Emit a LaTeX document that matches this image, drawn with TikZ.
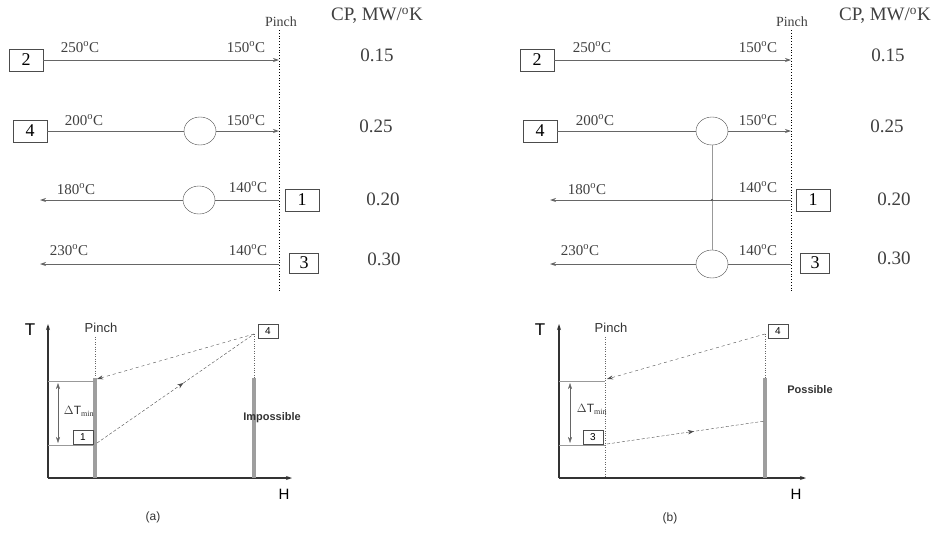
\documentclass[tikz,border=0pt]{standalone}
\usepackage{fontspec}
\setmainfont{Liberation Serif}
\setsansfont{Liberation Sans}
\usetikzlibrary{shapes.geometric,arrows.meta,decorations.markings}

\tikzset{
	streambox/.style={shape=rectangle,draw=black!70,minimum width=34pt,minimum height=22pt,
		inner sep=0pt,font=\fontsize{18}{18}\selectfont},
	smallbox/.style={shape=rectangle,draw=black!70,minimum width=20pt,minimum height=14pt,
		inner sep=0pt,font=\sffamily\fontsize{10}{10}\selectfont},
	hx/.style={shape=ellipse,draw=black!70,minimum width=32pt,minimum height=28pt,inner sep=0pt},
	flow/.style={draw=black!60,line width=0.8pt},
	temp/.style={font=\fontsize{15}{15}\selectfont,text=black!75},
	cpval/.style={font=\fontsize{19}{19}\selectfont,text=black!75},
	axislbl/.style={font=\sffamily\fontsize{15}{15}\selectfont},
	tiny/.style={font=\sffamily\fontsize{12}{12}\selectfont,text=black!80},
	wall/.style={draw=black!38,line width=4pt},
	midarrow/.style={decoration={markings,mark=at position 0.55 with {\arrow{Stealth[length=6pt]}}},
		postaction={decorate}}
}

\begin{document}
\begin{tikzpicture}[x=1pt,y=-1pt,>={Stealth[length=6pt,width=4pt]}]
	\useasboundingbox (0,0) rectangle (940,533);

	% ---------- (a) grid ----------
	\node[font=\fontsize{14}{14}\selectfont,text=black!75] (pa) at (281,22) {Pinch};
	\node[cpval] (cpa) at (377,16) {CP, MW/$^{\mathrm{o}}$K};
	\coordinate (pa top) at (279,30);
	\coordinate (pa bot) at (279,292);
	\draw[dotted,thick] (pa top) -- (pa bot);

	\node[streambox] (a2) at (26,60) {2};
	\coordinate (a2e) at (279,60);
	\draw[flow,->] (a2) -- (a2e);
	\node[temp] at (80,47) {250$^{\mathrm{o}}$C};
	\node[temp] at (246,47) {150$^{\mathrm{o}}$C};
	\node[cpval] at (377,55) {0.15};

	\node[streambox] (a4) at (30,131) {4};
	\node[hx] (ahx1) at (200,131) {};
	\coordinate (a4e) at (279,131);
	\draw[flow] (a4) -- (ahx1);
	\draw[flow,->] (ahx1) -- (a4e);
	\node[temp] at (84,120) {200$^{\mathrm{o}}$C};
	\node[temp] at (246,120) {150$^{\mathrm{o}}$C};
	\node[cpval] at (376,126) {0.25};

	\coordinate (a1s) at (279,200);
	\coordinate (a1e) at (40,200);
	\node[hx] (ahx2) at (199,200) {};
	\draw[flow] (a1s) -- (ahx2);
	\draw[flow,->] (ahx2) -- (a1e);
	\node[streambox] (a1) at (302,200) {1};
	\node[temp] at (76,189) {180$^{\mathrm{o}}$C};
	\node[temp] at (248,187) {140$^{\mathrm{o}}$C};
	\node[cpval] at (383,199) {0.20};

	\coordinate (a3s) at (279,264);
	\coordinate (a3e) at (40,264);
	\draw[flow,->] (a3s) -- (a3e);
	\node[streambox,minimum width=29pt,minimum height=20pt] (a3) at (304,263) {3};
	\node[temp] at (69,250) {230$^{\mathrm{o}}$C};
	\node[temp] at (248,250) {140$^{\mathrm{o}}$C};
	\node[cpval] at (384,259) {0.30};

	% ---------- (b) grid ----------
	\node[font=\fontsize{14}{14}\selectfont,text=black!75] (pb) at (792,22) {Pinch};
	\node[cpval] (cpb) at (885,16) {CP, MW/$^{\mathrm{o}}$K};
	\coordinate (pb top) at (791,30);
	\coordinate (pb bot) at (791,292);
	\draw[dotted,thick] (pb top) -- (pb bot);

	\node[streambox] (b2) at (537,60) {2};
	\coordinate (b2e) at (791,60);
	\draw[flow,->] (b2) -- (b2e);
	\node[temp] at (592,47) {250$^{\mathrm{o}}$C};
	\node[temp] at (758,47) {150$^{\mathrm{o}}$C};
	\node[cpval] at (888,55) {0.15};

	\node[streambox] (b4) at (540,131) {4};
	\node[hx] (bhx1) at (712,131) {};
	\coordinate (b4e) at (791,131);
	\draw[flow] (b4) -- (bhx1);
	\draw[flow,->] (bhx1) -- (b4e);
	\node[temp] at (595,120) {200$^{\mathrm{o}}$C};
	\node[temp] at (758,120) {150$^{\mathrm{o}}$C};
	\node[cpval] at (887,126) {0.25};

	\coordinate (b1s) at (791,200);
	\coordinate (b1e) at (550,200);
	\draw[flow,->] (b1s) -- (b1e);
	\node[streambox] (b1) at (813,200) {1};
	\node[temp] at (587,189) {180$^{\mathrm{o}}$C};
	\node[temp] at (758,187) {140$^{\mathrm{o}}$C};
	\node[cpval] at (894,199) {0.20};

	\coordinate (b3s) at (791,264);
	\coordinate (b3e) at (550,264);
	\node[hx] (bhx2) at (712,264) {};
	\draw[flow] (b3s) -- (bhx2);
	\draw[flow,->] (bhx2) -- (b3e);
	\node[streambox,minimum width=29pt,minimum height=20pt] (b3) at (815,263) {3};
	\node[temp] at (580,250) {230$^{\mathrm{o}}$C};
	\node[temp] at (758,250) {140$^{\mathrm{o}}$C};
	\node[cpval] at (894,258) {0.30};

	% match 4 - 3 crossing stream 1
	\draw[black!40] (bhx1) -- (bhx2);
	\fill[black!70] (712,200) circle (1.2pt);

	% ---------- (a) T-H plot ----------
	\coordinate (ao) at (48,478);
	\coordinate (aT) at (48,324);
	\coordinate (aH) at (292,478);
	\draw[line width=1.3pt,black!80,->] (ao) -- (aT);
	\draw[line width=1.3pt,black!80,->] (ao) -- (aH);
	\node[axislbl,font=\sffamily\fontsize{17}{17}\selectfont] at (30,330) {T};
	\node[axislbl] at (284,494) {H};
	\node[tiny,font=\sffamily\fontsize{13}{13}\selectfont] at (101,328) {Pinch};
	\node[tiny] at (153,517) {(a)};

	\coordinate (apt) at (95,337);
	\coordinate (apm) at (95,378);
	\coordinate (apb) at (95,478);
	\draw[dotted,black!60] (apt) -- (apm);
	\draw[wall] (apm) -- (apb);

	\coordinate (art) at (254,334);
	\coordinate (arm) at (254,378);
	\coordinate (arb) at (254,478);
	\draw[dotted,black!60] (art) -- (arm);
	\draw[wall] (arm) -- (arb);
	\node[smallbox] (ab4) at (268,331) {4};

	\coordinate (ahot) at (97,379);
	\coordinate (acold) at (97,443);
	\draw[dashed,black!70,->] (art) -- (ahot);
	\draw[densely dashed,black!70,midarrow] (acold) -- (art);

	\draw[black!40] (48,381) -- (95,381);
	\draw[black!40] (48,445) -- (95,445);
	\draw[black!60,<->] (58,383) -- (58,443);
	\node[tiny] at (79,411) {$\Delta$T$_{\mathrm{min}}$};
	\node[smallbox] (ab1) at (83,437) {1};
	\node[tiny,font=\sffamily\bfseries\fontsize{11}{11}\selectfont] at (272,418) {Impossible};

	% ---------- (b) T-H plot ----------
	\coordinate (bo) at (559,478);
	\coordinate (bT) at (559,324);
	\coordinate (bH) at (806,478);
	\draw[line width=1.3pt,black!80,->] (bo) -- (bT);
	\draw[line width=1.3pt,black!80,->] (bo) -- (bH);
	\node[axislbl,font=\sffamily\fontsize{17}{17}\selectfont] at (540,330) {T};
	\node[axislbl] at (796,494) {H};
	\node[tiny,font=\sffamily\fontsize{13}{13}\selectfont] at (611,328) {Pinch};
	\node[tiny] at (670,518) {(b)};

	\coordinate (bpt) at (605,337);
	\coordinate (bpb) at (605,478);
	\draw[dotted,black!60] (bpt) -- (bpb);

	\coordinate (brt) at (765,334);
	\coordinate (brm) at (765,378);
	\coordinate (brb) at (765,478);
	\draw[dotted,black!60] (brt) -- (brm);
	\draw[wall] (brm) -- (brb);
	\node[smallbox] (bb4) at (778,331) {4};

	\coordinate (bhot) at (607,379);
	\coordinate (bcold) at (607,444);
	\coordinate (bcend) at (765,421);
	\draw[dashed,black!70,->] (brt) -- (bhot);
	\draw[densely dashed,black!70,midarrow] (bcold) -- (bcend);

	\draw[black!40] (559,381) -- (605,381);
	\draw[black!40] (559,445) -- (605,445);
	\draw[black!60,<->] (570,383) -- (570,443);
	\node[tiny] at (592,409) {$\Delta$T$_{\mathrm{min}}$};
	\node[smallbox] (bb3) at (593,437) {3};
	\node[tiny,font=\sffamily\bfseries\fontsize{11}{11}\selectfont] at (810,390) {Possible};
\end{tikzpicture}
\end{document}
